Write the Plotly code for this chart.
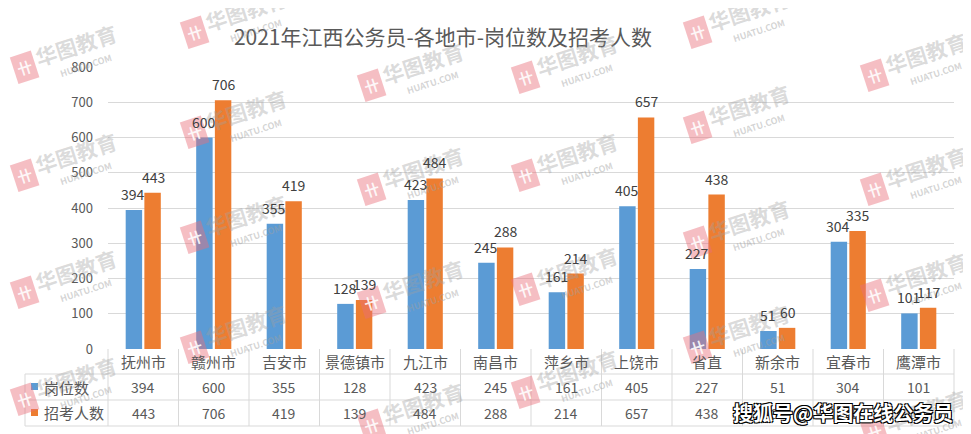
import plotly.graph_objects as go

cities = ["抚州市", "赣州市", "吉安市", "景德镇市", "九江市", "南昌市",
          "萍乡市", "上饶市", "省直", "新余市", "宜春市", "鹰潭市"]
posts = [394, 600, 355, 128, 423, 245, 161, 405, 227, 51, 304, 101]
applicants = [443, 706, 419, 139, 484, 288, 214, 657, 438, 60, 335, 117]
series_names = ["岗位数", "招考人数"]
y_ticks = [0, 100, 200, 300, 400, 500, 600, 700, 800]

COLORS = ["#5B9BD5", "#ED7D31"]
FONT = "Noto Sans CJK SC, Microsoft YaHei, sans-serif"
GRID = "#D9D9D9"
TEXT = "#595959"

# target canvas (page body has an 8px margin, so the figure is shifted)
W, H, OFF = 971, 434, 8
L, R, T, B = 108, 17, 67, 85
PW, PH = W - L - R, H - T - B


def px(x):
    return (x - L) / PW


def py(y):
    return (H - B - y) / PH


fig = go.Figure()
for name, vals, col in zip(series_names, [posts, applicants], COLORS):
    fig.add_trace(go.Bar(
        x=cities, y=vals, name=name,
        marker=dict(color=col, line=dict(width=0)),
    ))

annotations = []
shapes = []

# watermarks (华图教育)
marks = [(8, 25), (8, 133), (8, 250), (8, 357),
         (178, -10), (178, 90), (178, 195), (178, 305),
         (355, 43), (355, 147), (355, 260), (355, 383),
         (509, 35), (509, 133), (509, 247), (509, 350),
         (681, -10), (681, 85), (681, 200), (681, 305),
         (858, 33), (858, 147), (858, 253), (858, 390)]
for mx, my in marks:
    annotations.append(dict(x=px(mx + 16), y=py(my + 42), xref="paper", yref="paper",
                            xanchor="center", yanchor="middle",
                            text="<b>卄</b>", showarrow=False, textangle=-18,
                            bgcolor="rgba(232,110,122,0.45)", borderpad=3,
                            font=dict(size=15, color="rgba(255,255,255,0.9)", family=FONT)))
    annotations.append(dict(x=px(mx + 68), y=py(my + 20), xref="paper", yref="paper",
                            xanchor="center", yanchor="middle",
                            text="<b>华图教育</b>", showarrow=False, textangle=-18,
                            font=dict(size=21, color="rgba(160,160,160,0.38)", family=FONT)))
    annotations.append(dict(x=px(mx + 78), y=py(my + 40), xref="paper", yref="paper",
                            xanchor="center", yanchor="middle",
                            text="<b>HUATU.COM</b>", showarrow=False, textangle=-18,
                            font=dict(size=9, color="rgba(160,160,160,0.45)", family=FONT)))

# value labels above bars
for vals, dx in zip([posts, applicants], [-10, 10]):
    for c, v in zip(cities, vals):
        annotations.append(dict(x=c, y=v, xref="x", yref="y", text=str(v),
                                xshift=dx, yshift=16, xanchor="center", yanchor="middle",
                                showarrow=False,
                                font=dict(size=14, color="#404040", family=FONT)))

# data table under the axis
row_y = [py(361.5), py(387), py(413)]
for i, c in enumerate(cities):
    annotations.append(dict(x=c, y=row_y[0], xref="x", yref="paper", text=c,
                            xanchor="center", yanchor="middle", showarrow=False,
                            font=dict(size=15, color=TEXT, family=FONT)))
    for r, vals in enumerate([posts, applicants]):
        annotations.append(dict(x=c, y=row_y[r + 1], xref="x", yref="paper",
                                text=str(vals[i]), showarrow=False,
                                xanchor="center", yanchor="middle",
                                font=dict(size=14, color=TEXT, family=FONT)))

for r, (name, col) in enumerate(zip(series_names, COLORS)):
    yc = 387 + 26 * r
    shapes.append(dict(type="rect", xref="paper", yref="paper",
                       x0=px(31), x1=px(38), y0=py(yc - 4), y1=py(yc + 3),
                       fillcolor=col, line=dict(width=0)))
    annotations.append(dict(x=px(42), y=py(yc), xref="paper", yref="paper", text=name,
                            xanchor="left", yanchor="middle", showarrow=False,
                            font=dict(size=15, color=TEXT, family=FONT)))

line = dict(color=GRID, width=1)
for yy in [374, 400, 426]:
    shapes.append(dict(type="line", xref="paper", yref="paper", x0=px(25), x1=1,
                       y0=py(yy), y1=py(yy), line=line))
shapes.append(dict(type="line", xref="paper", yref="paper", x0=px(25), x1=px(25),
                   y0=py(374), y1=py(426), line=line))
for k in range(len(cities) + 1):
    shapes.append(dict(type="line", xref="paper", yref="paper", x0=k / len(cities),
                       x1=k / len(cities), y0=0, y1=py(426), line=line))

annotations.append(dict(x=px(843), y=py(413), xref="paper", yref="paper",
                        xanchor="center", yanchor="middle",
                        text="<b>搜狐号@华图在线公务员</b>", showarrow=False,
                        font=dict(size=20, color="white", family=FONT,
                                  shadow="1px 1px 0 #000, -1px -1px 0 #000, 1px -1px 0 #000, -1px 1px 0 #000")))

fig.update_layout(
    width=W - OFF, height=H - OFF,
    margin=dict(l=L - OFF, r=R, t=T - OFF, b=B),
    paper_bgcolor="white", plot_bgcolor="white",
    title=dict(text="2021年江西公务员-各地市-岗位数及招考人数",
               x=(443 - OFF) / (W - OFF), xanchor="center",
               y=1 - (38 - OFF) / (H - OFF), yanchor="middle",
               font=dict(size=21, color=TEXT, family=FONT)),
    barmode="group", bargap=0.47, bargroupgap=0.12,
    showlegend=False,
    xaxis=dict(showticklabels=False, showgrid=False, showline=False, zeroline=False),
    yaxis=dict(range=[0, 800], tickvals=y_ticks, gridcolor=GRID, gridwidth=1,
               zeroline=False, showline=False, ticklabelstandoff=14,
               tickfont=dict(size=13, color=TEXT, family=FONT)),
    annotations=annotations, shapes=shapes,
    font=dict(family=FONT),
)

fig.write_html("out.html")
